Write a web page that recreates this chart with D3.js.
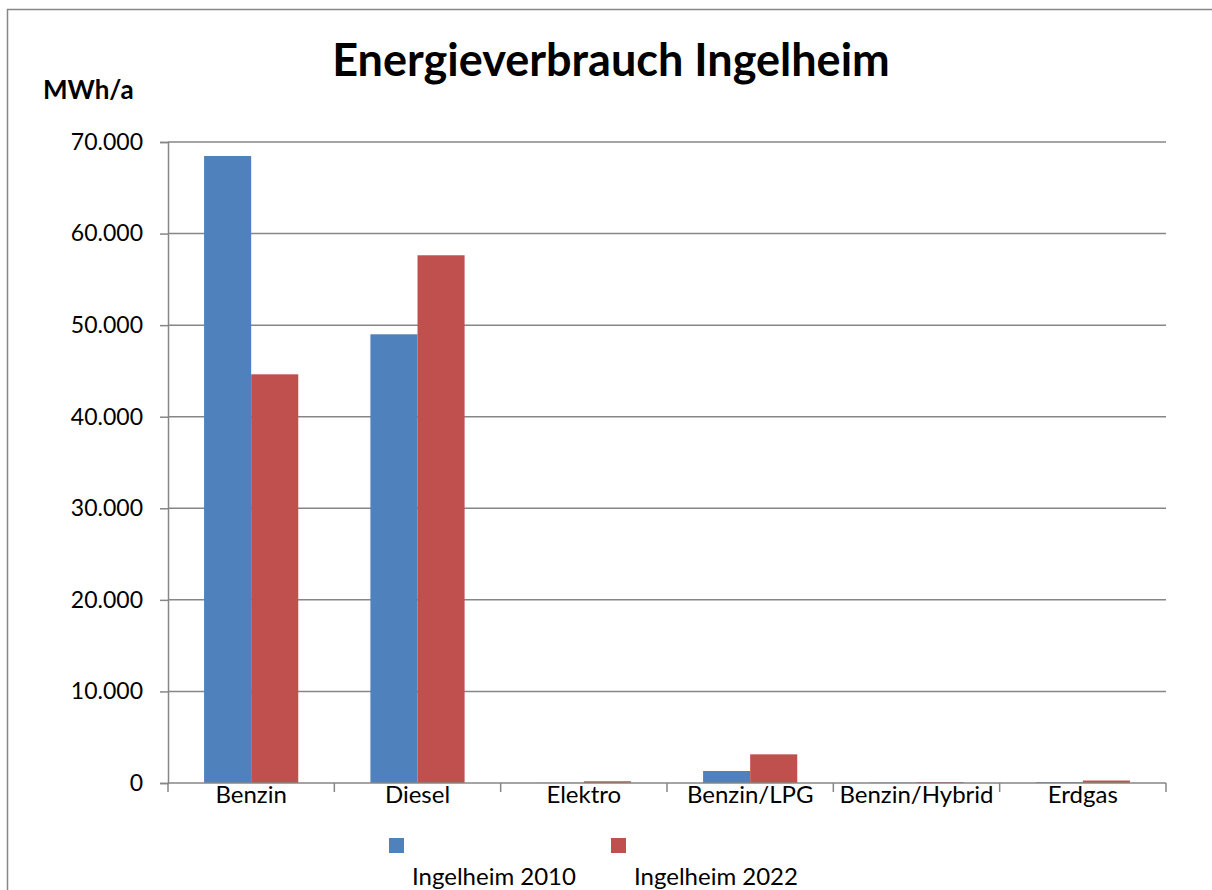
<!DOCTYPE html>
<html>
<head>
<meta charset="utf-8">
<script src="https://cdn.jsdelivr.net/npm/d3@7"></script>
<style>
  html, body { margin: 0; padding: 0; background: #fff; }
  text { font-family: Lato, "Open Sans", sans-serif; fill: #000; }
</style>
</head>
<body>
<div id="chart"></div>
<script>
// Daten
const categories = ['Benzin', 'Diesel', 'Elektro', 'Benzin/LPG', 'Benzin/Hybrid', 'Erdgas'];
const seriesNames = ['Ingelheim 2010', 'Ingelheim 2022'];
const values2010 = [68470, 49000, 20, 1310, 40, 90];
const values2022 = [44630, 57630, 190, 3130, 100, 270];
const yTicks = [0, 10000, 20000, 30000, 40000, 50000, 60000, 70000];
const colors = ['#4F81BD', '#C0504D'];

const width = 1212, height = 890;
const plot = { left: 168, right: 1166, top: 142, bottom: 783 };

const de = d3.formatLocale({ decimal: ',', thousands: '.', grouping: [3], currency: ['', '€'] });
const fmt = de.format(',.0f');

const svg = d3.select('#chart').append('svg')
    .attr('width', width)
    .attr('height', height);

// Rahmen
svg.append('rect')
    .attr('x', 7.5).attr('y', 9.5)
    .attr('width', width).attr('height', height)
    .attr('fill', '#fff')
    .attr('stroke', '#868686')
    .attr('stroke-width', 1.5);

const y = d3.scaleLinear().domain([0, 70000]).range([plot.bottom, plot.top]);
const x0 = d3.scaleBand().domain(categories).range([plot.left, plot.right]).paddingInner(0).paddingOuter(0);
const x1 = d3.scaleBand().domain(seriesNames).range([0, x0.bandwidth()]).paddingInner(0).paddingOuter(0.766);

// Gitternetz
svg.append('g')
    .selectAll('line')
    .data(yTicks.filter(d => d > 0))
    .enter().append('line')
    .attr('x1', plot.left).attr('x2', plot.right)
    .attr('y1', d => y(d)).attr('y2', d => y(d))
    .attr('stroke', '#868686')
    .attr('stroke-width', 1.5);

// Balken
const rows = categories.map((c, i) => ({ cat: c, vals: [values2010[i], values2022[i]] }));
svg.append('g')
    .selectAll('g')
    .data(rows)
    .enter().append('g')
    .attr('transform', d => `translate(${x0(d.cat)},0)`)
    .selectAll('rect')
    .data(d => d.vals.map((v, i) => ({ key: seriesNames[i], v, i })))
    .enter().append('rect')
    .attr('x', d => x1(d.key))
    .attr('width', x1.bandwidth())
    .attr('y', d => y(d.v))
    .attr('height', d => y(0) - y(d.v))
    .attr('fill', d => colors[d.i]);

// Y-Achse
const yAxis = d3.axisLeft(y).tickValues(yTicks).tickSize(8).tickPadding(17).tickFormat(fmt);
const gy = svg.append('g').attr('transform', `translate(${plot.left},0)`).call(yAxis);
gy.select('.domain').attr('stroke', '#868686').attr('stroke-width', 1.5);
gy.selectAll('.tick line').attr('stroke', '#868686').attr('stroke-width', 1.5);
gy.selectAll('.tick text').attr('font-size', 23).attr('font-family', 'Lato').attr('fill', '#000');

// X-Achse
const gx = svg.append('g').attr('transform', `translate(0,${plot.bottom})`);
gx.append('line')
    .attr('x1', plot.left).attr('x2', plot.right)
    .attr('stroke', '#868686').attr('stroke-width', 1.5);
const bounds = categories.map(c => x0(c)).concat([plot.right]);
gx.selectAll('.xt')
    .data(bounds)
    .enter().append('line')
    .attr('x1', d => d).attr('x2', d => d)
    .attr('y1', 0).attr('y2', 9)
    .attr('stroke', '#868686').attr('stroke-width', 1.5);
gx.selectAll('.xl')
    .data(categories)
    .enter().append('text')
    .attr('x', d => x0(d) + x0.bandwidth() / 2)
    .attr('y', 20)
    .attr('text-anchor', 'middle')
    .attr('font-size', 24)
    .text(d => d);

// Titel
svg.append('text')
    .attr('x', 611).attr('y', 76)
    .attr('text-anchor', 'middle')
    .attr('font-size', 45)
    .attr('font-weight', 'bold')
    .text('Energieverbrauch Ingelheim');

svg.append('text')
    .attr('x', 43).attr('y', 99)
    .attr('font-size', 26)
    .attr('font-weight', 'bold')
    .text('MWh/a');

// Legende
const legendX = [389, 611];
const leg = svg.append('g')
    .selectAll('g')
    .data(seriesNames)
    .enter().append('g');
leg.append('rect')
    .attr('x', (d, i) => legendX[i]).attr('y', 838)
    .attr('width', 15).attr('height', 15)
    .attr('fill', (d, i) => colors[i]);
leg.append('text')
    .attr('x', (d, i) => legendX[i] + 105)
    .attr('y', 885)
    .attr('text-anchor', 'middle')
    .attr('font-size', 24)
    .text(d => d);
</script>
</body>
</html>
